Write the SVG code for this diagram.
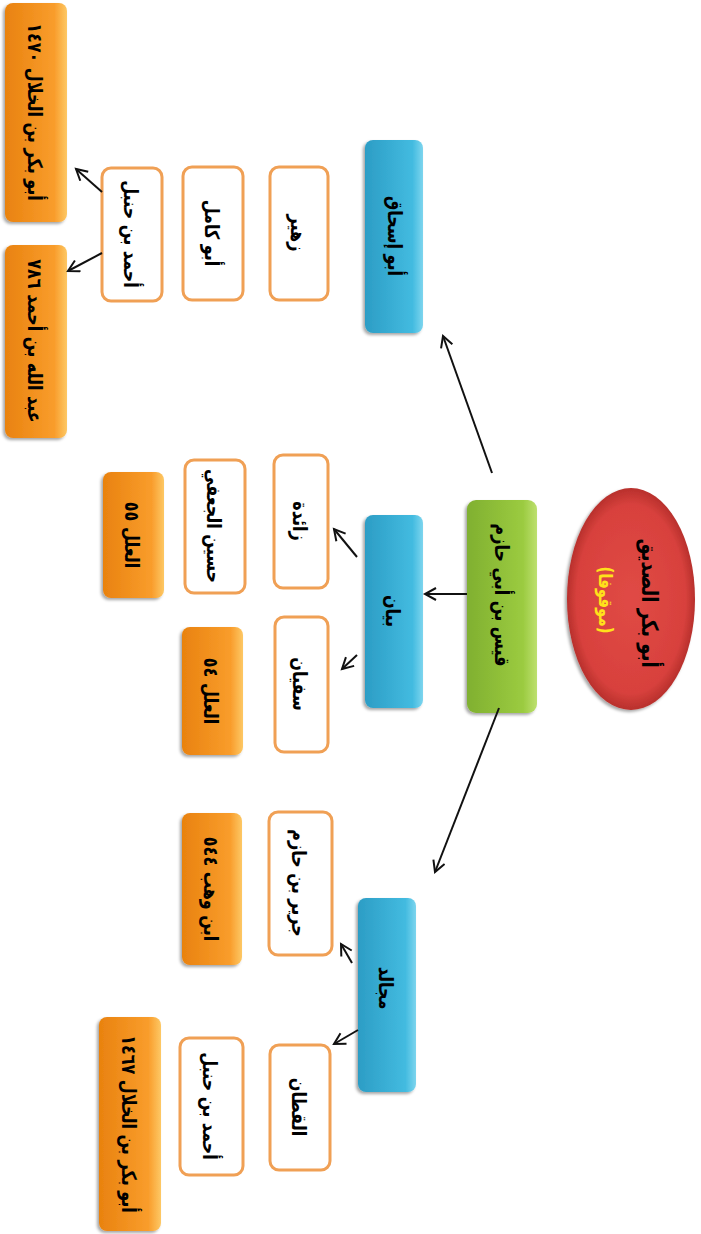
<svg xmlns="http://www.w3.org/2000/svg" width="701" height="1234" viewBox="0 0 701 1234">
  <style>
    .lbl { font-family: "DejaVu Sans", "Noto Sans", sans-serif; font-weight: bold; font-size: 16px; fill: #000; text-anchor: middle; direction: rtl; }
    .big { font-size: 18px; }
    .note { font-size: 15px; fill: #FFE21A; }
    .plain { fill: #fff; stroke: #F0A055; stroke-width: 3; }
    .blue { fill: url(#gBlue); filter: url(#shadow); }
    .orange { fill: url(#gOrange); filter: url(#shadow); }
    .green { fill: url(#gGreen); filter: url(#shadow); }
    .conn line { stroke: #111; stroke-width: 2; marker-end: url(#arrow); }
  </style>
  <defs>
    <linearGradient id="gBlue" x1="0" y1="0" x2="1" y2="0">
      <stop offset="0" stop-color="#2C9DC5"/>
      <stop offset="0.82" stop-color="#43BBE0"/>
      <stop offset="1" stop-color="#7DD5EE"/>
    </linearGradient>
    <linearGradient id="gOrange" x1="0" y1="0" x2="1" y2="0">
      <stop offset="0" stop-color="#E9820F"/>
      <stop offset="0.8" stop-color="#F99D2C"/>
      <stop offset="1" stop-color="#FDC865"/>
    </linearGradient>
    <linearGradient id="gGreen" x1="0" y1="0" x2="1" y2="0">
      <stop offset="0" stop-color="#80B030"/>
      <stop offset="0.8" stop-color="#9BCB40"/>
      <stop offset="1" stop-color="#BDE070"/>
    </linearGradient>
    <radialGradient id="gRed" cx="0.5" cy="0.5" r="0.5">
      <stop offset="0" stop-color="#E04A45"/>
      <stop offset="0.85" stop-color="#D8413D"/>
      <stop offset="1" stop-color="#B8302C"/>
    </radialGradient>
    <filter id="shadow" x="-20%" y="-10%" width="140%" height="120%">
      <feDropShadow dx="-2" dy="2" stdDeviation="1.5" flood-color="#000" flood-opacity="0.35"/>
    </filter>
    <marker id="arrow" markerUnits="userSpaceOnUse" markerWidth="16" markerHeight="16" refX="12" refY="7" orient="auto">
      <path d="M1,1 L12,7 L1,13" fill="none" stroke="#111" stroke-width="2"/>
    </marker>
  </defs>

  <!-- root: the companion -->
  <g id="n-abubakr">
    <ellipse cx="631" cy="599" rx="64" ry="111" fill="url(#gRed)" filter="url(#shadow)"/>
    <text class="lbl big" transform="translate(650 603) rotate(90) scale(1 1.25)" dy="6">أبو بكر الصديق</text>
    <text class="lbl note" transform="translate(605 600) rotate(90) scale(1 1.25)" dy="5">(موقوفا)</text>
  </g>

  <g id="n-qays">
    <rect class="green" x="467" y="500" width="70" height="213" rx="9"/>
    <text class="lbl" transform="translate(503 595) rotate(90) scale(1 1.25)" dy="6">قيس بن أبي حازم</text>
  </g>

  <!-- second tier -->
  <g id="n-abuishaq">
    <rect class="blue" x="365" y="140" width="58" height="193" rx="8"/>
    <text class="lbl" transform="translate(396 236) rotate(90) scale(1 1.25)" dy="6">أبو إسحاق</text>
  </g>
  <g id="n-bayan">
    <rect class="blue" x="365" y="515" width="58" height="193" rx="8"/>
    <text class="lbl" transform="translate(394 611) rotate(90) scale(1 1.25)" dy="6">بيان</text>
  </g>
  <g id="n-mujalid">
    <rect class="blue" x="358" y="898" width="58" height="194" rx="8"/>
    <text class="lbl" transform="translate(387 988) rotate(90) scale(1 1.25)" dy="6">مجالد</text>
  </g>

  <!-- Abu Ishaq branch -->
  <g id="n-zuhayr">
    <rect class="plain" x="270" y="167" width="58" height="133" rx="9"/>
    <text class="lbl" transform="translate(299 233) rotate(90) scale(1 1.25)" dy="6">زهير</text>
  </g>
  <g id="n-abukamil">
    <rect class="plain" x="183" y="167" width="60" height="133" rx="9"/>
    <text class="lbl" transform="translate(213 233) rotate(90) scale(1 1.25)" dy="6">أبو كامل</text>
  </g>
  <g id="n-ahmad1">
    <rect class="plain" x="102" y="168" width="60" height="133" rx="9"/>
    <text class="lbl" transform="translate(132 234) rotate(90) scale(1 1.25)" dy="6">أحمد بن حنبل</text>
  </g>
  <g id="n-khallal1470">
    <rect class="orange" x="5" y="3" width="62" height="219" rx="8"/>
    <text class="lbl" transform="translate(36 112) rotate(90) scale(1 1.25)" dy="6">أبو بكر بن الخلال ١٤٧٠</text>
  </g>
  <g id="n-abdallah786">
    <rect class="orange" x="5" y="245" width="62" height="193" rx="8"/>
    <text class="lbl" transform="translate(36 341) rotate(90) scale(1 1.25)" dy="6">عبد الله بن أحمد ٧٨٦</text>
  </g>

  <!-- Bayan branch -->
  <g id="n-zaida">
    <rect class="plain" x="274" y="455" width="54" height="133" rx="9"/>
    <text class="lbl" transform="translate(301 521) rotate(90) scale(1 1.25)" dy="6">زائدة</text>
  </g>
  <g id="n-husayn">
    <rect class="plain" x="185" y="460" width="60" height="133" rx="9"/>
    <text class="lbl" transform="translate(215 526) rotate(90) scale(1 1.25)" dy="6">حسين الجعفي</text>
  </g>
  <g id="n-ilal55">
    <rect class="orange" x="103" y="472" width="61" height="126" rx="8"/>
    <text class="lbl" transform="translate(133 535) rotate(90) scale(1 1.25)" dy="6">العلل ٥٥</text>
  </g>
  <g id="n-sufyan">
    <rect class="plain" x="275" y="617" width="53" height="135" rx="9"/>
    <text class="lbl" transform="translate(301 684) rotate(90) scale(1 1.25)" dy="6">سفيان</text>
  </g>
  <g id="n-ilal54">
    <rect class="orange" x="182" y="627" width="61" height="128" rx="8"/>
    <text class="lbl" transform="translate(212 691) rotate(90) scale(1 1.25)" dy="6">العلل ٥٤</text>
  </g>

  <!-- Mujalid branch -->
  <g id="n-jarir">
    <rect class="plain" x="269" y="812" width="63" height="143" rx="9"/>
    <text class="lbl" transform="translate(300 883) rotate(90) scale(1 1.25)" dy="6">جرير بن حازم</text>
  </g>
  <g id="n-ibnwahb">
    <rect class="orange" x="182" y="813" width="60" height="152" rx="8"/>
    <text class="lbl" transform="translate(212 889) rotate(90) scale(1 1.25)" dy="6">ابن وهب ٥٤٤</text>
  </g>
  <g id="n-qattan">
    <rect class="plain" x="270" y="1045" width="60" height="125" rx="9"/>
    <text class="lbl" transform="translate(300 1107) rotate(90) scale(1 1.25)" dy="6">القطان</text>
  </g>
  <g id="n-ahmad2">
    <rect class="plain" x="180" y="1038" width="63" height="137" rx="9"/>
    <text class="lbl" transform="translate(211 1106) rotate(90) scale(1 1.25)" dy="6">أحمد بن حنبل</text>
  </g>
  <g id="n-khallal1467">
    <rect class="orange" x="99" y="1017" width="62" height="214" rx="8"/>
    <text class="lbl" transform="translate(130 1124) rotate(90) scale(1 1.25)" dy="6">أبو بكر بن الخلال ١٤٦٧</text>
  </g>

  <!-- connectors -->
  <g id="connectors" class="conn">
    <line x1="492" y1="473" x2="443" y2="336"/>
    <line x1="467" y1="594" x2="425" y2="594"/>
    <line x1="499" y1="708" x2="435" y2="872"/>
    <line x1="357" y1="557" x2="334" y2="529"/>
    <line x1="357" y1="655" x2="342" y2="669"/>
    <line x1="352" y1="963" x2="341" y2="944"/>
    <line x1="358" y1="1030" x2="334" y2="1044"/>
    <line x1="102" y1="192" x2="76" y2="169"/>
    <line x1="102" y1="253" x2="68" y2="271"/>
  </g>
</svg>
